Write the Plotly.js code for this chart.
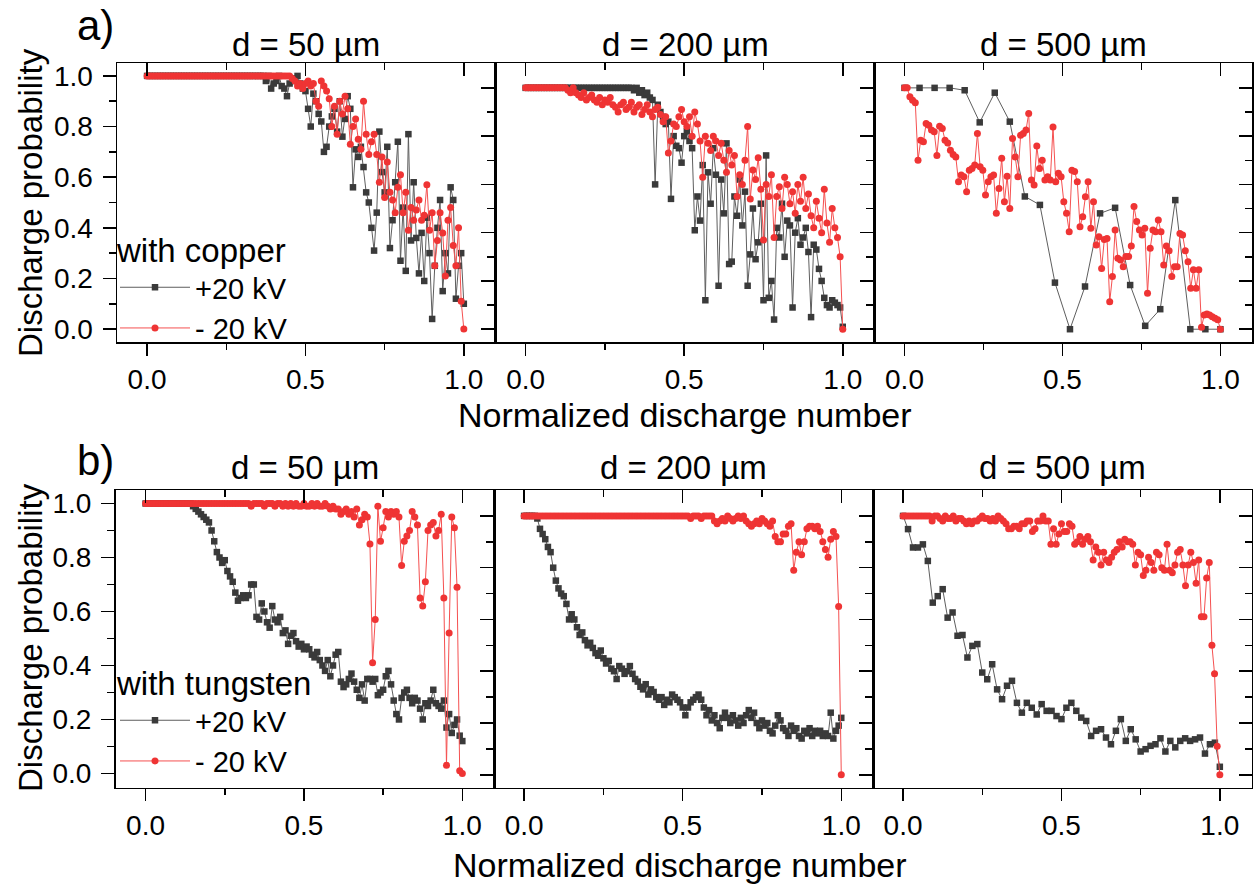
<!DOCTYPE html>
<html><head><meta charset="utf-8">
<script src="https://cdn.plot.ly/plotly-3.0.1.min.js"></script>
<style>html,body{margin:0;padding:0;background:#fff}#chart{width:1254px;height:884px}</style>
</head><body><div id="chart"></div>
<script>
// ---------- data (discharge probability vs normalized discharge number) ----------
const seriesNames = ['+20 kV', '- 20 kV'];
const panelTitles = ['d = 50 µm', 'd = 200 µm', 'd = 500 µm'];
const xTickVals = [0, 0.5, 1.0];
const yTickVals = [0, 0.2, 0.4, 0.6, 0.8, 1.0];

// a) with copper, d = 50 µm
const a1Plus = [1,1,1,1,1,1,1,1,1,1,1,1,1,1,1,1,1,1,1,1,1,1,1,1,1,1,1,1,1,1,1,1,1,1,1,1,1,1,1,1,1,1,1,1,1,
 .98,1,.95,.97,.98,1,.96,.95,.92,.97,.99,.98,1,.97,.95,.94,.87,.80,.93,.90,.85,.82,.70,.72,.80,.84,.87,.78,.90,.76,
 .83,.92,.87,.56,.71,.68,.72,.64,.54,.50,.40,.31,.46,.78,.62,.54,.72,.32,.43,.58,.74,.27,.48,.23,.77,.35,.58,.36,.22,.38,
 .19,.44,.30,.04,.25,.40,.51,.15,.30,.22,.56,.51,.12,.25,.30,.10];
const a1Minus = [1,1,1,1,1,1,1,1,1,1,1,1,1,1,1,1,1,1,1,1,1,1,1,1,1,1,1,1,1,1,1,1,1,1,1,1,1,1,1,1,1,1,1,1,1,1,1,1,1,1,1,1,1,1,1,
 .99,.98,.96,.97,.95,.97,.98,.96,.97,.90,.88,.98,.96,.94,.91,.80,.88,.77,.90,.85,.92,.87,.73,.80,.83,.75,.71,.90,.77,.69,
 .74,.77,.69,.58,.68,.52,.66,.54,.51,.46,.56,.61,.46,.54,.39,.48,.43,.47,.51,.43,.45,.57,.39,.46,.25,.35,.46,.38,.21,.43,
 .48,.33,.25,.40,.11,0];
// a) with copper, d = 200 µm
const a2Plus = [1,1,1,1,1,1,1,1,1,1,1,1,1,1,1,1,1,1,1,1,1,1,1,1,1,1,1,1,1,1,1,1,1,1,1,1,1,1,1,1,1,
 .99,1,.98,.99,.97,.98,.96,.95,.60,.93,.90,.88,.85,.86,.54,.80,.76,.75,.69,.80,.82,.78,.75,.41,.55,.45,.68,.12,.65,.52,
 .75,.64,.18,.62,.48,.77,.27,.28,.55,.47,.62,.43,.57,.18,.31,.50,.29,.36,.52,.12,.72,.13,.20,.04,.42,.38,.52,.30,.45,.43,
 .09,.40,.46,.35,.38,.42,.32,.05,.35,.33,.25,.20,.13,.10,.09,.12,.11,.10,.09,.01];
const a2Minus = [1,1,1,1,1,1,1,1,1,1,1,1,1,1,1,1,
 .99,.98,1,.98,.97,.96,.98,.95,.96,.97,.95,.94,.96,.93,.95,.94,.96,.93,.92,.90,.93,.94,.91,.92,.94,.90,.92,.93,.89,.91,
 .93,.90,.88,.91,.92,.89,.86,.88,.73,.78,.85,.84,.88,.91,.86,.84,.88,.80,.90,.85,.78,.63,.80,.77,.74,.80,.78,.72,.77,.70,
 .65,.74,.68,.72,.55,.64,.60,.70,.84,.54,.66,.62,.71,.58,.37,.60,.55,.64,.38,.55,.59,.50,.63,.60,.52,.57,.48,.60,.53,.63,
 .50,.56,.47,.42,.53,.46,.40,.58,.44,.36,.50,.42,.38,.30,0];
// a) with copper, d = 500 µm
const a3Plus = [1,1,1,1,.99,.857,.98,.86,.55,.515,.193,0,.177,.48,.503,.183,.014,.083,.535,0,0,0];
const a3Minus = [1,1,.963,.949,.938,.70,.783,.777,.852,.845,.825,.818,.72,.841,.832,.783,.772,.742,.724,.714,
 .611,.639,.632,.57,.659,.666,.68,.811,.673,.659,.556,.611,.632,.639,.48,.583,.708,.528,.634,.50,
 .79,.714,.632,.804,.811,.825,.894,.618,.597,.759,.666,.70,.618,.632,.618,.838,.611,.646,.632,.528,
 .48,.404,.659,.653,.611,.425,.466,.549,.611,.418,.528,.349,.383,.252,.372,.376,.114,.218,.411,.294,
 .287,.259,.301,.301,.345,.508,.446,.411,.39,.418,.149,.335,.411,.404,.452,.404,.266,.345,.325,.218,
 .259,.259,.397,.39,.325,.28,.17,.246,.17,.246,.008,.059,.063,.059,.052,.045,.039,0];
// b) with tungsten, d = 50 µm
const b1Plus = [1,1,1,1,1,1,1,1,1,1,1,1,1,1,1,1,1,1,
 .99,.98,.97,.96,.95,.94,.93,.90,.86,.82,.80,.78,.79,.75,.73,.71,.67,.64,.65,.66,.65,.66,.70,.70,.58,.57,.63,.60,.56,.54,
 .62,.57,.56,.58,.52,.53,.48,.51,.52,.49,.47,.48,.46,.47,.46,.44,.43,.45,.42,.40,.38,.42,.36,.40,.44,.45,.34,.32,.33,.35,
 .37,.34,.31,.28,.33,.27,.35,.35,.34,.35,.29,.30,.31,.36,.38,.33,.27,.22,.20,.28,.30,.31,.28,.26,.28,.27,.24,.20,.26,.25,
 .27,.31,.26,.25,.24,.27,.17,.22,.15,.18,.20,.14,.12];
const b1Minus = [1,1,1,1,1,1,1,1,1,1,1,1,1,1,1,1,1,1,1,1,1,1,1,1,1,1,1,1,1,1,1,1,1,1,1,1,1,1,1,1,.99,1,1,1,1,.99,1,1,
 1,.99,1,1,.99,1,.99,1,.99,1,.99,.99,1,.99,.99,1,.99,1,.99,.99,1,.99,.98,.99,.98,.98,.96,.97,.98,.96,
 .97,.95,.98,.92,.94,.96,.95,.85,.41,.57,.99,.86,.91,.97,.95,.97,.96,.97,.95,.77,.86,.88,.90,.97,.95,.92,.65,.62,.71,.90,
 .92,.93,.88,.90,.96,.65,.03,.52,.95,.91,.69,.01,0];
// b) with tungsten, d = 200 µm
const b2Plus = [1,1,1,1,1,
 .99,.95,.93,.91,.88,.86,.80,.75,.72,.70,.69,.66,.60,.62,.60,.57,.54,.55,.52,.50,.51,.49,.47,.46,.48,.45,.43,.44,.41,.40,
 .37,.42,.41,.39,.40,.42,.39,.37,.36,.34,.33,.35,.31,.33,.32,.30,.29,.30,.27,.29,.28,.31,.30,.29,.28,.26,.23,.26,.28,.29,
 .30,.31,.29,.26,.23,.25,.21,.23,.20,.18,.22,.24,.22,.20,.23,.21,.19,.22,.20,.23,.25,.22,.24,.20,.18,.21,.19,.20,.17,.16,
 .19,.23,.21,.18,.17,.15,.19,.17,.18,.15,.14,.17,.16,.18,.15,.17,.16,.17,.15,.16,.15,.24,.14,.17,.19,.22];
const b2Minus = [1,1,1,1,1,1,1,1,1,1,1,1,1,1,1,1,1,1,1,1,1,1,1,1,1,1,1,1,1,1,1,1,1,1,1,1,1,1,1,1,1,1,1,1,1,1,1,1,1,1,1,1,1,1,1,1,1,1,1,1,1,1,1,
 .99,1,1,1,.99,1,1,1,1,.98,.97,.98,.99,.98,1,.99,.98,.99,1,.99,1,.98,.97,.96,.97,.98,.97,.99,.98,.97,
 .96,.98,.92,.90,.90,.93,.93,.96,.97,.79,.86,.90,.85,.90,.95,.96,.96,.95,.96,.94,.90,.87,.84,.91,.94,.92,.65,0];
// b) with tungsten, d = 500 µm
const b3Plus = [1,.949,.878,.878,.89,.826,.665,.69,.717,.607,.627,.537,.54,.453,.498,.505,.395,.369,.427,.33,
 .292,.344,.363,.278,.24,.278,.259,.233,.273,.247,.247,.227,.215,.259,.278,.247,.221,.208,.15,.17,
 .176,.144,.118,.17,.215,.131,.176,.137,.09,.099,.112,.118,.141,.09,.131,.106,.131,.141,.131,.137,
 .144,.082,.118,.124,.031];
const b3Minus = [1,1,1,1,1,1,1,1,1,1,
 1,.98,1,1,.99,.98,1,.99,.99,1,.98,.99,.99,.98,.97,.98,.97,.98,.98,.99,1,.99,.99,.98,.99,.98,1,.99,.98,.97,
 .95,.95,.96,.96,.95,.97,.97,.98,.98,.94,.95,.98,.98,1,.98,.98,.89,.95,.89,.93,.97,.94,.94,.97,.96,.89,.90,.92,.89,.91,
 .92,.90,.83,.88,.86,.81,.86,.83,.82,.84,.86,.87,.90,.88,.91,.90,.90,.89,.81,.86,.85,.77,.79,.84,.82,.79,.86,.85,.80,.79,
 .89,.79,.78,.81,.86,.87,.81,.73,.81,.86,.82,.74,.83,.61,.61,.76,.82,.50,.39,.11,0];

// ---------- helpers ----------
// x = normalized discharge number (index / (count-1))
function normIdx(arr){ return arr.map((v, i) => i / (arr.length - 1)); }
const FONT = 'Liberation Sans, Arial, sans-serif';
const BLACK = '#3a3a3a', BLACKLINE = '#5e5e5e', RED = '#ef3434', REDLINE = '#f55050';

function series(vals, isRed, xa, ya, legend, show){
  return {type:'scatter', mode:'lines+markers', x: normIdx(vals), y: vals, xaxis: xa, yaxis: ya,
    name: isRed ? seriesNames[1] : seriesNames[0], legend: legend, showlegend: show, cliponaxis:false,
    line:{color: isRed ? REDLINE : BLACKLINE, width: 1},
    marker:{symbol: isRed ? 'circle' : 'square', size: isRed ? 7 : 6.5, color: isRed ? RED : BLACK}};
}
const panels = [
  [a1Plus, a1Minus, 'x',  'y',  'legend'],
  [a2Plus, a2Minus, 'x2', 'y2', 'legend'],
  [a3Plus, a3Minus, 'x3', 'y3', 'legend'],
  [b1Plus, b1Minus, 'x4', 'y4', 'legend2'],
  [b2Plus, b2Minus, 'x5', 'y5', 'legend2'],
  [b3Plus, b3Minus, 'x6', 'y6', 'legend2']
];
const data = [];
panels.forEach((p, k) => {
  const first = (k === 0 || k === 3);
  data.push(series(p[0], false, p[2], p[3], p[4], first));
  data.push(series(p[1], true,  p[2], p[3], p[4], first));
});
// empty traces so the tick-only overlay axes get drawn
['x7','x8','x9','x10','x11','x12'].forEach((xa, k) => {
  data.push({type:'scatter', x:[], y:[], xaxis: xa, yaxis: ['y','y2','y3','y4','y5','y6'][k], showlegend:false, hoverinfo:'skip'});
});
data.push({type:'scatter', x:[], y:[], xaxis:'x3', yaxis:'y7', showlegend:false, hoverinfo:'skip'});
data.push({type:'scatter', x:[], y:[], xaxis:'x6', yaxis:'y8', showlegend:false, hoverinfo:'skip'});

const W = 1254, H = 884;
const px = v => v / W, py = v => 1 - v / H;
const xDomA = [[117,495.5],[495.5,874.5],[874.5,1252]];
const xDomB = [[115.5,494],[494,873],[873,1251.5]];
const yDomA = [py(342), py(63)];
const yDomB = [py(787.5), py(490)];
const xRange = [-0.095, 1.1];
const yRanges = [[-0.051,1.051],[-0.053,1.103],[-0.053,1.103],[-0.052,1.05],[-0.049,1.1],[-0.049,1.1]];

const tickFont = {family: FONT, size: 28, color: '#000'};
function xBase(dom, anchor){
  return {domain:[px(dom[0]), px(dom[1])], anchor: anchor, range: xRange, showgrid:false, zeroline:false,
    showline:true, mirror:true, linecolor:'#000', linewidth:1.5,
    tickmode:'array', tickvals: xTickVals, tickformat:'.1f',
    ticks:'outside', ticklen:12, tickwidth:1.5, tickcolor:'#000', tickfont: tickFont,
    minor:{tickmode:'array', tickvals:[0.25,0.75], ticks:'outside', ticklen:6, tickwidth:1.5, tickcolor:'#000', showgrid:false}};
}
function xTop(over, anchor){
  return {overlaying: over, side:'top', anchor: anchor, range: xRange, showgrid:false, zeroline:false, showline:false,
    tickmode:'array', tickvals: xTickVals, ticks:'inside', ticklen:13, tickwidth:1.5, tickcolor:'#000', showticklabels:false,
    minor:{tickmode:'array', tickvals:[0.25,0.75], ticks:'inside', ticklen:7, tickwidth:1.5, tickcolor:'#000', showgrid:false}};
}
function yBase(dom, anchor, range, labels){
  return {domain: dom, anchor: anchor, range: range, showgrid:false, zeroline:false,
    showline:true, mirror:true, linecolor:'#000', linewidth:1.5,
    tickmode:'array', tickvals: yTickVals, tickformat:'.1f', showticklabels: labels, ticklabelstandoff: 4,
    ticks:'outside', ticklen:13, tickwidth:1.5, tickcolor:'#000', tickfont: tickFont,
    minor:{tickmode:'array', tickvals:[0.1,0.3,0.5,0.7,0.9], ticks:'outside', ticklen:7, tickwidth:1.5, tickcolor:'#000', showgrid:false}};
}
function yRight(over, anchor, range){
  return {overlaying: over, side:'right', anchor: anchor, range: range, showgrid:false, zeroline:false, showline:false,
    tickmode:'array', tickvals: yTickVals, ticks:'inside', ticklen:13, tickwidth:1.5, tickcolor:'#000', showticklabels:false,
    minor:{tickmode:'array', tickvals:[0.1,0.3,0.5,0.7,0.9], ticks:'inside', ticklen:7, tickwidth:1.5, tickcolor:'#000', showgrid:false}};
}

const legendCommon = {xanchor:'left', yanchor:'top', bgcolor:'rgba(0,0,0,0)', borderwidth:0,
  font:{family: FONT, size:29, color:'#000'}, itemwidth: 70, tracegroupgap: 0};
const layout = {
  width: W, height: H, margin:{l:0, r:0, t:0, b:0}, paper_bgcolor:'#fff', plot_bgcolor:'rgba(0,0,0,0)',
  font:{family: FONT, color:'#000'},
  xaxis: xBase(xDomA[0], 'y'), xaxis2: xBase(xDomA[1], 'y2'), xaxis3: xBase(xDomA[2], 'y3'),
  xaxis4: xBase(xDomB[0], 'y4'), xaxis5: xBase(xDomB[1], 'y5'), xaxis6: xBase(xDomB[2], 'y6'),
  xaxis7: xTop('x','y'), xaxis8: xTop('x2','y2'), xaxis9: xTop('x3','y3'),
  xaxis10: xTop('x4','y4'), xaxis11: xTop('x5','y5'), xaxis12: xTop('x6','y6'),
  yaxis: yBase(yDomA, 'x', yRanges[0], true), yaxis2: yBase(yDomA, 'x2', yRanges[1], false), yaxis3: yBase(yDomA, 'x3', yRanges[2], false),
  yaxis4: yBase(yDomB, 'x4', yRanges[3], true), yaxis5: yBase(yDomB, 'x5', yRanges[4], false), yaxis6: yBase(yDomB, 'x6', yRanges[5], false),
  yaxis7: yRight('y3', 'x3', yRanges[2]), yaxis8: yRight('y6', 'x6', yRanges[5]),
  showlegend: true,
  legend: Object.assign({x: px(115), y: py(219), title:{text:'with copper', font:{family: FONT, size:33, color:'#000'}}}, legendCommon),
  legend2: Object.assign({x: px(115), y: py(652), title:{text:'with tungsten', font:{family: FONT, size:33, color:'#000'}}}, legendCommon),
  annotations: []
};
const ann = layout.annotations;
function addText(text, x, y, size, extra){
  ann.push(Object.assign({text: text, xref:'paper', yref:'paper', x: px(x), y: py(y), showarrow:false,
    xanchor:'center', yanchor:'middle', font:{family: FONT, size: size, color:'#000'}}, extra || {}));
}
addText('a)', 75, 25, 42, {xanchor:'left'});
addText('b)', 75, 460, 42, {xanchor:'left'});
[0,1,2].forEach(k => {
  addText(panelTitles[k], (xDomA[k][0] + xDomA[k][1]) / 2, 44, 33);
  addText(panelTitles[k], (xDomB[k][0] + xDomB[k][1]) / 2, 467, 33);
});
addText('Normalized discharge number', 685, 415, 34);
addText('Normalized discharge number', 680, 865, 34);
addText('Discharge probability', 31, 203, 33, {textangle:-90});
addText('Discharge probability', 30, 638, 33, {textangle:-90});

Plotly.newPlot('chart', data, layout, {staticPlot:true, displayModeBar:false});
</script></body></html>
